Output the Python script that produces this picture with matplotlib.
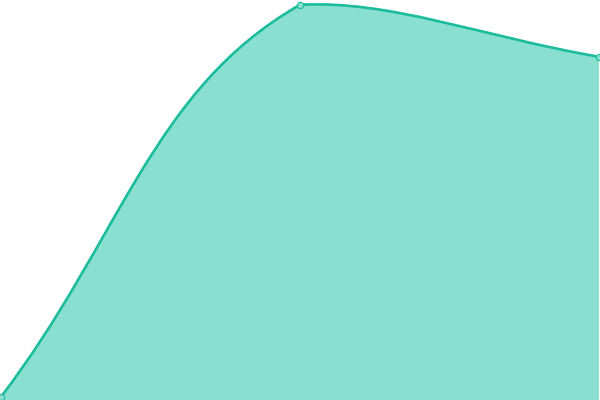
import numpy as np
import matplotlib
matplotlib.use("Agg")
import matplotlib.pyplot as plt
from matplotlib.path import Path
from matplotlib.patches import PathPatch

categories = ["A", "B", "C"]
values = [0.8, 98.8, 85.8]

LINE = "#1abc9c"
FILL = "#8ae0d0"
TENSION = 0.4

fig = plt.figure(figsize=(6, 4), dpi=100)
ax = fig.add_axes([0, 0, 1, 1])
ax.set_xlim(-0.0034, len(categories) - 1 + 0.0034)
ax.set_ylim(0, 100)
ax.axis("off")

xs = np.arange(len(categories), dtype=float)
pts = ax.transData.transform(np.column_stack([xs, values]))
W, H = fig.bbox.width, fig.bbox.height

n = len(pts)
cps_prev, cps_next = [], []
for i in range(n):
    p1 = pts[i]
    p0 = pts[i - 1] if i > 0 else p1
    p2 = pts[i + 1] if i < n - 1 else p1
    d01 = np.hypot(*(p1 - p0))
    d12 = np.hypot(*(p2 - p1))
    tot = d01 + d12
    s01 = d01 / tot if tot else 0
    s12 = d12 / tot if tot else 0
    fa, fb = TENSION * s01, TENSION * s12
    cp = p1 - fa * (p2 - p0)
    cn = p1 + fb * (p2 - p0)
    cp = np.clip(cp, [0, 0], [W, H])
    cn = np.clip(cn, [0, 0], [W, H])
    cps_prev.append(cp)
    cps_next.append(cn)

verts = [pts[0]]
codes = [Path.MOVETO]
for i in range(n - 1):
    verts += [cps_next[i], cps_prev[i + 1], pts[i + 1]]
    codes += [Path.CURVE4] * 3

inv = ax.transData.inverted()
dverts = inv.transform(np.array(verts))

line_path = Path(dverts, codes)
fill_verts = list(dverts) + [(xs[-1], 0), (xs[0], 0), dverts[0]]
fill_codes = codes + [Path.LINETO, Path.LINETO, Path.CLOSEPOLY]
fill_path = Path(fill_verts, fill_codes)

ax.add_patch(PathPatch(fill_path, facecolor=FILL, edgecolor="none", zorder=1))
ax.add_patch(PathPatch(line_path, facecolor="none", edgecolor=LINE, lw=1.9,
                       zorder=2, clip_on=False))
ax.plot(xs, values, "o", ms=4.5, mfc=FILL, mec=LINE, mew=0.8, zorder=3,
        clip_on=False)

fig.savefig("out.png", dpi=100)
